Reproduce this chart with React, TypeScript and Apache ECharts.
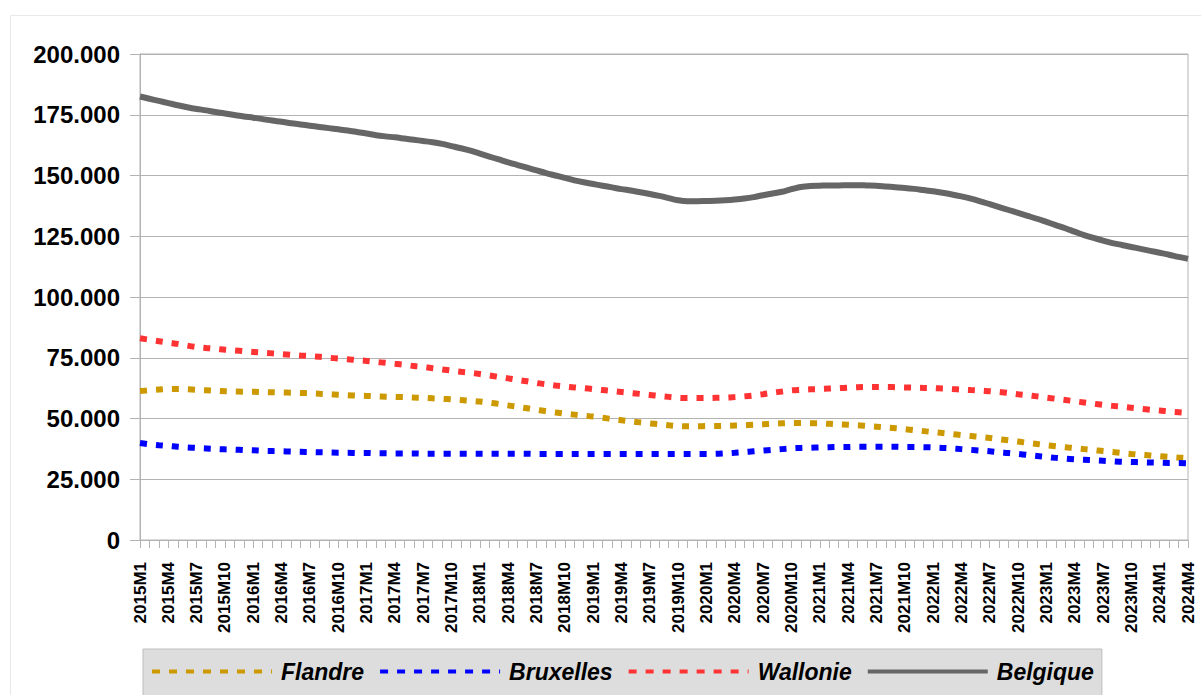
import React, { useEffect, useRef } from "react";
import * as echarts from "echarts";

const years = [2015, 2016, 2017, 2018, 2019, 2020, 2021, 2022, 2023, 2024];
const lastMonth2024 = 4;
const categories: string[] = [];
years.forEach((y) => {
  const n = y === 2024 ? lastMonth2024 : 12;
  for (let m = 1; m <= n; m++) categories.push(`${y}M${m}`);
});

// values in thousands
const belgique = [
  182.5, 181.6, 180.7, 179.8, 178.9, 178.1, 177.4, 176.8, 176.1, 175.5, 174.9, 174.3,
  173.8, 173.2, 172.6, 172.1, 171.5, 171.0, 170.5, 170.0, 169.5, 169.0, 168.5, 167.9,
  167.3, 166.6, 166.1, 165.7, 165.2, 164.7, 164.2, 163.7, 163.0, 162.1, 161.2, 160.2,
  159.0, 157.8, 156.6, 155.4, 154.3, 153.2, 152.1, 151.0, 150.0, 149.0, 148.0, 147.2,
  146.5, 145.8, 145.1, 144.4, 143.8, 143.1, 142.4, 141.6, 140.7, 139.8, 139.4, 139.4,
  139.5, 139.6, 139.8, 140.1, 140.5, 141.1, 141.9, 142.6, 143.3, 144.4, 145.3, 145.7,
  145.8, 145.9, 145.9, 146.0, 146.0, 145.9, 145.8, 145.5, 145.2, 144.9, 144.5, 144.0,
  143.5, 142.9, 142.2, 141.4, 140.5, 139.4, 138.2, 137.0, 135.8, 134.6, 133.4, 132.2,
  130.9, 129.6, 128.3, 126.9, 125.5, 124.3, 123.2, 122.2, 121.4, 120.6, 119.8, 119.0,
  118.2, 117.4, 116.5, 115.7,
];
const wallonie = [
  83.0, 82.4, 81.8, 81.2, 80.7, 80.0, 79.4, 79.0, 78.7, 78.3, 78.0, 77.7,
  77.4, 77.1, 76.8, 76.5, 76.2, 75.9, 75.7, 75.4, 75.0, 74.7, 74.4, 74.0,
  73.7, 73.3, 72.9, 72.5, 72.1, 71.6, 71.2, 70.7, 70.2, 69.7, 69.2, 68.8,
  68.3, 67.7, 67.1, 66.5, 65.9, 65.3, 64.6, 64.1, 63.6, 63.2, 62.8, 62.5,
  62.1, 61.7, 61.3, 60.9, 60.5, 60.1, 59.7, 59.3, 58.9, 58.5, 58.4, 58.4,
  58.4, 58.5, 58.6, 58.8, 59.1, 59.5, 60.0, 60.6, 61.1, 61.6, 61.8, 62.0,
  62.1, 62.3, 62.5, 62.7, 62.9, 63.0, 63.0, 63.0, 62.9, 62.8, 62.7, 62.6,
  62.5, 62.3, 62.1, 61.9, 61.7, 61.5, 61.2, 60.9, 60.5, 60.0, 59.6, 59.1,
  58.6, 58.1, 57.6, 57.1, 56.6, 56.1, 55.6, 55.2, 54.8, 54.4, 54.0, 53.6,
  53.3, 52.9, 52.6, 52.3,
];
const flandre = [
  61.3, 61.6, 61.9, 62.1, 62.1, 62.0, 61.8, 61.6, 61.4, 61.2, 61.1, 61.0,
  61.0, 60.9, 60.8, 60.7, 60.6, 60.5, 60.4, 60.2, 60.0, 59.8, 59.6, 59.4,
  59.3, 59.1, 59.0, 58.9, 58.8, 58.6, 58.5, 58.3, 58.1, 57.9, 57.6, 57.3,
  57.0, 56.5, 56.0, 55.4, 54.8, 54.2, 53.6, 53.0, 52.5, 52.0, 51.6, 51.2,
  50.8, 50.3, 49.8, 49.3, 48.8, 48.4, 48.0, 47.6, 47.2, 46.9, 46.8, 46.8,
  46.9, 46.9, 47.0, 47.1, 47.2, 47.4, 47.6, 47.8, 48.0, 48.1, 48.1, 48.0,
  48.0, 47.8, 47.6, 47.4, 47.2, 46.9, 46.6, 46.3, 46.0, 45.6, 45.2, 44.8,
  44.4, 44.0, 43.6, 43.2, 42.8, 42.4, 42.0, 41.5, 41.0, 40.5, 40.0, 39.5,
  39.0, 38.6, 38.2, 37.8, 37.4, 37.0, 36.6, 36.2, 35.8, 35.4, 35.1, 34.8,
  34.5, 34.2, 33.9, 33.7,
];
const bruxelles = [
  39.9, 39.4, 39.0, 38.7, 38.4, 38.1, 37.9, 37.7, 37.5, 37.3, 37.2, 37.0,
  36.9, 36.7, 36.6, 36.5, 36.4, 36.3, 36.2, 36.1, 36.0, 35.9, 35.9, 35.8,
  35.8, 35.7, 35.7, 35.6, 35.6, 35.6, 35.5, 35.5, 35.5, 35.5, 35.5, 35.5,
  35.5, 35.5, 35.5, 35.5, 35.5, 35.5, 35.4, 35.4, 35.4, 35.4, 35.4, 35.4,
  35.4, 35.4, 35.4, 35.4, 35.4, 35.4, 35.4, 35.4, 35.4, 35.4, 35.4, 35.4,
  35.4, 35.5, 35.7, 35.9, 36.2, 36.5, 36.8, 37.1, 37.4, 37.7, 37.9, 38.0,
  38.1, 38.2, 38.3, 38.3, 38.4, 38.4, 38.4, 38.4, 38.4, 38.3, 38.3, 38.2,
  38.1, 37.9, 37.7, 37.4, 37.1, 36.8, 36.5, 36.1, 35.8, 35.4, 35.0, 34.6,
  34.2, 33.8, 33.5, 33.2, 33.0, 32.8, 32.6, 32.4, 32.2, 32.1, 32.0, 31.9,
  31.8, 31.7, 31.7, 31.6,
];

const seriesNames = ["Flandre", "Bruxelles", "Wallonie", "Belgique"];
const seriesColors = ["#cc9900", "#0000ff", "#ff3333", "#666666"];

export default function App() {
  const ref = useRef<HTMLDivElement>(null);
  useEffect(() => {
    if (!ref.current) return;
    const chart = echarts.init(ref.current, null, { renderer: "svg" });
    const font = "'Liberation Sans', Arial, sans-serif";
    const datas = [flandre, bruxelles, wallonie, belgique];
    const dotted = [7, 9];
    chart.setOption({
      animation: false,
      backgroundColor: "#ffffff",
      graphic: [
        {
          type: "rect",
          shape: { x: 10.5, y: 15.5, width: 1200, height: 700 },
          style: { fill: "none", stroke: "#e8e8e8", lineWidth: 1 },
          z: -1,
        },
      ],
      grid: {
        left: 140,
        right: 13,
        top: 54,
        bottom: 155,
        show: true,
        borderColor: "#b3b3b3",
        borderWidth: 1,
      },
      legend: {
        left: 143,
        top: 649,
        padding: [11, 8, 30, 7],
        backgroundColor: "#dddddd",
        borderColor: "#bdbdbd",
        borderWidth: 1,
        itemWidth: 120,
        itemHeight: 14,
        itemGap: 14,
        itemStyle: { opacity: 0 },
        textStyle: {
          fontFamily: font,
          fontSize: 23,
          fontWeight: "bold",
          fontStyle: "italic",
          color: "#000",
          padding: [0, 0, 0, 4],
        },
        data: seriesNames.map((n, i) => ({
          name: n,
          itemStyle: { opacity: 0 },
          lineStyle: { width: 4, type: i === 3 ? "solid" : [8, 9] },
        })),
      },
      xAxis: {
        type: "category",
        data: categories,
        boundaryGap: false,
        axisLine: { show: true, lineStyle: { color: "#b3b3b3", width: 1 } },
        axisTick: {
          show: true,
          interval: 0,
          length: 8,
          lineStyle: { color: "#b3b3b3" },
        },
        axisLabel: {
          interval: 2,
          rotate: 90,
          margin: 22,
          fontFamily: font,
          fontSize: 17,
          fontWeight: "bold",
          color: "#000",
        },
        splitLine: { show: false },
      },
      yAxis: {
        type: "value",
        min: 0,
        max: 200,
        interval: 25,
        axisLine: { show: true, lineStyle: { color: "#b3b3b3", width: 1 } },
        axisTick: { show: true, length: 10, lineStyle: { color: "#b3b3b3" } },
        axisLabel: {
          margin: 20,
          fontFamily: font,
          fontSize: 24,
          fontWeight: "bold",
          color: "#000",
          formatter: (v: number) => (v === 0 ? "0" : v.toFixed(3)),
        },
        splitLine: { show: true, lineStyle: { color: "#b3b3b3", width: 1 } },
      },
      series: seriesNames.map((n, i) => ({
        name: n,
        type: "line",
        data: datas[i],
        symbol: "none",
        smooth: 0.3,
        z: i === 3 ? 3 : 4,
        lineStyle: {
          color: seriesColors[i],
          width: 6,
          type: i === 3 ? "solid" : dotted,
        },
        itemStyle: { color: seriesColors[i] },
      })),
    });
    return () => chart.dispose();
  }, []);
  return (
    <div
      ref={ref}
      style={{ position: "fixed", left: 0, top: 0, width: 1201, height: 695 }}
    />
  );
}
